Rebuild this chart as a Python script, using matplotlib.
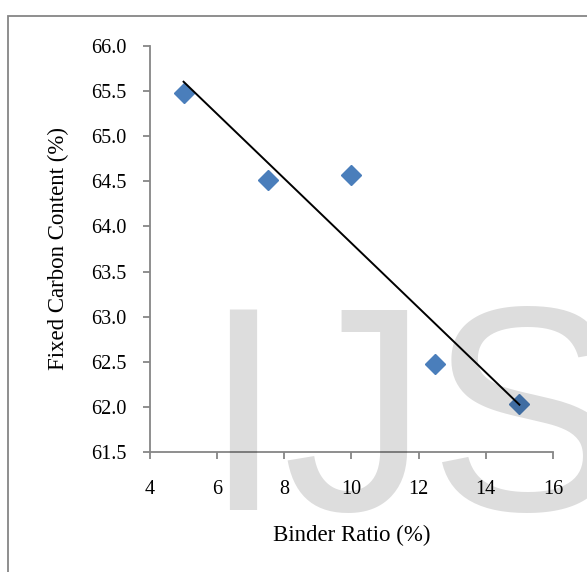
import numpy as np
from matplotlib import pyplot as plt
from matplotlib.patches import Rectangle

binder_ratio = [5, 7.5, 10, 12.5, 15]
fixed_carbon = [65.48, 64.52, 64.57, 62.47, 62.03]
x_ticks = [4, 6, 8, 10, 12, 14, 16]
y_ticks = [61.5, 62.0, 62.5, 63.0, 63.5, 64.0, 64.5, 65.0, 65.5, 66.0]

plt.rcParams['font.family'] = ['Liberation Serif', 'DejaVu Serif']

W, H = 587, 572
fig = plt.figure(figsize=(W / 100, H / 100), dpi=100)
ax = fig.add_axes([150 / W, 1 - 452 / H, (553 - 150) / W, (452 - 46) / H])

# linear trend line (least squares), drawn over the data span
slope, icpt = np.polyfit(binder_ratio, fixed_carbon, 1)
xs = np.array([min(binder_ratio), max(binder_ratio)])
ax.plot(xs, slope * xs + icpt, color='black', lw=1.4, zorder=3)
ax.plot(binder_ratio, fixed_carbon, 'D', ms=10.5, color='#4a7ebb',
        mec='#4a7ebb', zorder=2)

ax.set_xlim(4, 16)
ax.set_ylim(61.5, 66.0)
ax.set_xticks(x_ticks)
ax.set_yticks(y_ticks)
ax.set_yticklabels([f"{v:.1f}" for v in y_ticks])
for s in ['top', 'right']:
    ax.spines[s].set_visible(False)
for s in ['left', 'bottom']:
    ax.spines[s].set_color('#868686')
    ax.spines[s].set_linewidth(1.3)
ax.tick_params(direction='out', length=5, width=1.3, color='#868686',
               labelsize=14.5)
ax.tick_params(axis='y', pad=12)
ax.tick_params(axis='x', pad=15)
ax.set_xlabel("Binder Ratio (%)", fontsize=16.5, labelpad=19)
ax.set_ylabel("Fixed Carbon Content (%)", fontsize=16.5, labelpad=16)

# outer chart border
fig.add_artist(Rectangle((8 / W, -0.1), 1.2, 1 - 16 / H + 0.1,
                         transform=fig.transFigure, fill=False,
                         edgecolor='#868686', lw=1.3))

# watermark
fig.text(202 / W, 1 - 510 / H, "IJS", fontsize=210, family='Liberation Sans',
         color='black', alpha=0.135, ha='left', va='baseline', zorder=10)

fig.savefig("out.png", dpi=100)
